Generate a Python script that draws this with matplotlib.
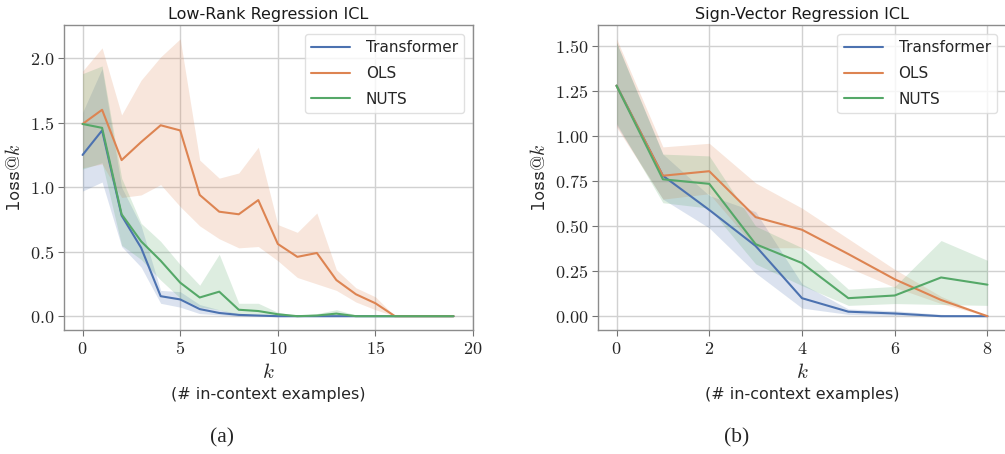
import matplotlib
matplotlib.use("Agg")
import matplotlib.pyplot as plt
import seaborn as sns
from matplotlib.ticker import FuncFormatter

sns.set_style("whitegrid")
plt.rcParams["font.family"] = ["DejaVu Sans"]
plt.rcParams["mathtext.fontset"] = "cm"

# low-rank regression panel, k = 0..19
k_a = list(range(20))
tf_a = [1.25, 1.44, 0.78, 0.53, 0.155, 0.13, 0.055, 0.025, 0.01, 0.005,
        0.0, 0.0, 0.0, 0.0, 0.0, 0.0, 0.0, 0.0, 0.0, 0.0]
tf_a_lo = [0.97, 1.04, 0.54, 0.38, 0.10, 0.07, 0.02, 0.01, 0.0, 0.0,
           0.0, 0.0, 0.0, 0.0, 0.0, 0.0, 0.0, 0.0, 0.0, 0.0]
tf_a_hi = [1.58, 1.92, 1.00, 0.70, 0.20, 0.19, 0.09, 0.05, 0.02, 0.01,
           0.005, 0.0, 0.0, 0.0, 0.0, 0.0, 0.0, 0.0, 0.005, 0.0]
ols_a = [1.49, 1.60, 1.21, 1.35, 1.48, 1.44, 0.94, 0.81, 0.79, 0.90,
         0.56, 0.46, 0.49, 0.28, 0.17, 0.10, 0.0, 0.0, 0.0, 0.0]
ols_a_lo = [1.15, 1.18, 0.92, 0.94, 1.02, 0.85, 0.70, 0.60, 0.53, 0.54,
            0.43, 0.30, 0.25, 0.20, 0.11, 0.05, 0.0, 0.0, 0.0, 0.0]
ols_a_hi = [1.90, 2.08, 1.56, 1.83, 2.01, 2.15, 1.21, 1.07, 1.11, 1.31,
            0.71, 0.65, 0.80, 0.36, 0.22, 0.15, 0.0, 0.0, 0.0, 0.0]
nuts_a = [1.49, 1.46, 0.79, 0.58, 0.43, 0.26, 0.145, 0.19, 0.05, 0.04,
          0.015, 0.0, 0.005, 0.02, 0.0, 0.0, 0.0, 0.0, 0.0, 0.0]
nuts_a_lo = [1.14, 1.19, 0.55, 0.44, 0.28, 0.14, 0.07, 0.05, 0.01, 0.01,
             0.0, 0.0, 0.0, 0.0, 0.0, 0.0, 0.0, 0.0, 0.0, 0.0]
nuts_a_hi = [1.88, 1.94, 1.07, 0.72, 0.58, 0.40, 0.24, 0.48, 0.10, 0.10,
             0.03, 0.005, 0.02, 0.05, 0.01, 0.0, 0.0, 0.0, 0.0, 0.0]

# sign-vector regression panel, k = 0..8
k_b = list(range(9))
tf_b = [1.28, 0.78, 0.59, 0.39, 0.10, 0.025, 0.015, 0.0, 0.0]
tf_b_lo = [1.06, 0.65, 0.49, 0.24, 0.045, 0.01, 0.005, 0.0, 0.0]
tf_b_hi = [1.52, 0.90, 0.67, 0.58, 0.18, 0.04, 0.03, 0.01, 0.0]
ols_b = [1.28, 0.78, 0.805, 0.55, 0.48, 0.345, 0.205, 0.09, 0.0]
ols_b_lo = [1.05, 0.65, 0.68, 0.38, 0.38, 0.27, 0.16, 0.07, 0.0]
ols_b_hi = [1.54, 0.94, 0.96, 0.74, 0.60, 0.43, 0.26, 0.11, 0.0]
nuts_b = [1.28, 0.76, 0.735, 0.40, 0.295, 0.10, 0.115, 0.215, 0.175]
nuts_b_lo = [1.07, 0.63, 0.60, 0.29, 0.17, 0.06, 0.07, 0.065, 0.06]
nuts_b_hi = [1.52, 0.90, 0.89, 0.50, 0.38, 0.15, 0.165, 0.42, 0.31]

names = ["Transformer", "OLS", "NUTS"]
colors = sns.color_palette("deep")[:3]

fig = plt.figure(figsize=(10.05, 4.54), dpi=100)
ax_a = fig.add_axes([0.0637, 0.273, 0.407, 0.672])
ax_b = fig.add_axes([0.595, 0.273, 0.406, 0.672])

panels = [
    (ax_a, k_a, [(tf_a, tf_a_lo, tf_a_hi), (ols_a, ols_a_lo, ols_a_hi),
                 (nuts_a, nuts_a_lo, nuts_a_hi)],
     "Low-Rank Regression ICL", [0, 5, 10, 15, 20], "{:.1f}"),
    (ax_b, k_b, [(tf_b, tf_b_lo, tf_b_hi), (ols_b, ols_b_lo, ols_b_hi),
                 (nuts_b, nuts_b_lo, nuts_b_hi)],
     "Sign-Vector Regression ICL", [0, 2, 4, 6, 8], "{:.2f}"),
]

for ax, ks, series, title, xt, yfmt in panels:
    for (mid, lo, hi), name, c in zip(series, names, colors):
        ax.fill_between(ks, lo, hi, color=c, alpha=0.2, linewidth=0)
        ax.plot(ks, mid, color=c, lw=1.5, label=name)
    ax.set_title(title, fontsize=11.5, pad=4, color="0.1")
    ax.set_xticks(xt)
    ax.xaxis.set_major_formatter(FuncFormatter(lambda v, p: "$%d$" % v))
    ax.yaxis.set_major_formatter(
        FuncFormatter(lambda v, p, f=yfmt: "$" + f.format(v) + "$"))
    ax.tick_params(labelsize=13, length=4, color="0.45", direction="out",
                   bottom=True, left=True, pad=3)
    for sp in ax.spines.values():
        sp.set_color("0.55")
        sp.set_linewidth(1.0)
    ax.grid(color="0.82", lw=1.0)
    ax.set_ylabel(r"$\mathtt{loss@}k$", fontsize=14, labelpad=4)
    ax.set_xlabel("$k$", fontsize=15, labelpad=3)
    ax.text(0.5, -0.21, "(# in-context examples)", transform=ax.transAxes,
            fontsize=11.5, ha="center", va="center", color="0.15")
    ax.legend(loc="upper right", fontsize=11, handlelength=2.6,
              handletextpad=1.0, labelspacing=0.7, borderaxespad=0.6,
              frameon=True, edgecolor="0.85", fancybox=True)

ax_a.set_yticks([0.0, 0.5, 1.0, 1.5, 2.0])
ax_b.set_yticks([0.0, 0.25, 0.5, 0.75, 1.0, 1.25, 1.5])

fig.text(0.221, 0.035, "(a)", family="Liberation Serif", fontsize=15.5,
         ha="center", va="center")
fig.text(0.733, 0.035, "(b)", family="Liberation Serif", fontsize=15.5,
         ha="center", va="center")

fig.savefig("out.png", dpi=100)
